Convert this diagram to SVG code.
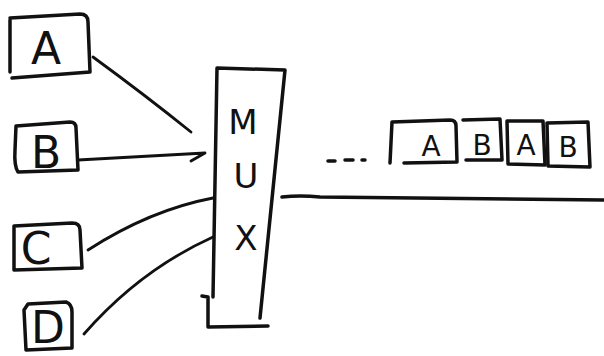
<svg xmlns="http://www.w3.org/2000/svg" width="604" height="356" viewBox="0 0 604 356">
<style>
.s{fill:none;stroke:#111;stroke-width:3.5;stroke-linecap:round;stroke-linejoin:round}
.c{fill:none;stroke:#111;stroke-width:2.8;stroke-linecap:round;stroke-linejoin:round}
.t{font-family:"DejaVu Sans","Liberation Sans",sans-serif;fill:#111;text-anchor:middle}
.big{font-size:44px}
.mux{font-size:34px}
.fr{font-size:28px}
</style>
<rect width="604" height="356" fill="#fff"/>
<g id="A">
<path class="s" d="M10 18 L80 14 Q88 14 88 22 L90 72 L12 78 M10 20 L10 72"/>
<text class="t big" x="46" y="64">A</text>
</g>
<g id="B">
<path class="s" d="M16 126 L70 122 Q76 122 76 128 L78 170 L18 172 Q14 166 15 150 L16 126"/>
<text class="t big" x="46" y="168">B</text>
</g>
<g id="C">
<path class="s" d="M14 226 L72 223 Q80 223 80 230 L82 268 L14 270 L14 226"/>
<text class="t big" x="36" y="264">C</text>
</g>
<g id="D">
<path class="s" d="M28 304 L66 302 Q72 304 72 312 L72 348 L26 350 L24 310 Z"/>
<text class="t big" x="48" y="343">D</text>
</g>
<g id="MUX">
<path class="s" d="M217 68 L285 70 L260 318 M217 68 L213 297 M202 296 L208 297 M208 297 L208 327 L268 326"/>
<text class="t mux" x="243" y="134">M</text>
<text class="t mux" x="246" y="188">U</text>
<text class="t mux" x="246" y="250">X</text>
</g>
<g id="frames">
<path class="s" d="M328 161 L335 161 M345 160 L353 160 M362 160 L365 160"/>
<path class="s" d="M392 122 L450 120 Q456 120 456 126 L457 162 L404 163 M392 122 L390 163"/>
<text class="t fr" x="431" y="156">A</text>
<path class="s" d="M463 120 L500 119 L502 160 L466 160"/>
<text class="t fr" x="482" y="155">B</text>
<path class="s" d="M507 121 L543 121 L545 165 L508 164 L507 121"/>
<text class="t fr" x="526" y="155">A</text>
<path class="s" d="M547 123 L588 122 L590 167 L548 166 L547 123"/>
<text class="t fr" x="568" y="157">B</text>
</g>
<g id="connectors">
<path class="c" d="M93 57 Q145 95 191 132"/>
<path class="c" d="M78 160 L205 153 L191 161"/>
<path class="c" d="M88 250 Q150 210 213 198"/>
<path class="c" d="M84 334 Q140 270 213 237"/>
<path class="s" d="M282 197 Q300 195 320 197 L604 200"/>
</g>
</svg>
